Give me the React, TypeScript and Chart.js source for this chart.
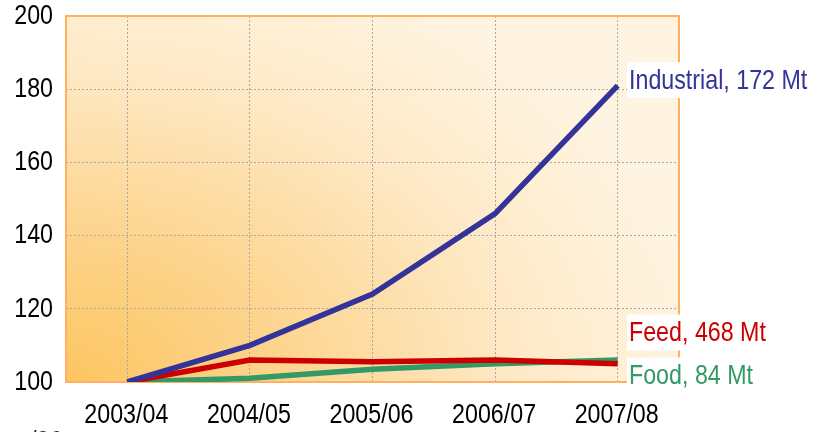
import React, { useEffect, useRef } from "react";
import { Chart, registerables } from "chart.js";
Chart.register(...registerables);

const categories = ["2003/04", "2004/05", "2005/06", "2006/07", "2007/08"];
const industrial = [100, 110, 124, 146, 181];
const feed = [100, 106, 105.5, 106, 105];
const food = [100, 101, 103.5, 105, 106];
const yTicks = [100, 120, 140, 160, 180, 200];
const seriesLabels = ["Industrial, 172 Mt", "Feed, 468 Mt", "Food, 84 Mt"];
const labelValues = [182.5, 113.5, 101.8];
const colors = ["#333399", "#CC0000", "#339966"];

const FONT = '"Liberation Sans", Arial, sans-serif';
const SX = 0.83;

function condensedText(ctx: any, t: string, x: number, y: number, align: string, color: string) {
  ctx.save();
  ctx.font = `28px ${FONT}`;
  ctx.textBaseline = "middle";
  ctx.textAlign = align;
  ctx.fillStyle = color;
  ctx.translate(x, y);
  ctx.scale(SX, 1);
  ctx.fillText(t, 0, 0);
  ctx.restore();
}

const bgPlugin = {
  id: "bg",
  beforeDraw(chart: any) {
    const { ctx, chartArea: a } = chart;
    ctx.save();
    ctx.fillStyle = "#FFFFFF";
    ctx.fillRect(0, 0, chart.width, chart.height);
    ctx.beginPath();
    ctx.rect(a.left, a.top, a.right - a.left, a.bottom - a.top);
    ctx.clip();
    ctx.translate(a.left, a.bottom);
    ctx.scale(1, 0.7);
    const g = ctx.createRadialGradient(0, 0, 0, 0, 0, 640);
    g.addColorStop(0, "#FCC560");
    g.addColorStop(0.35, "#FDD590");
    g.addColorStop(0.7, "#FEE9C6");
    g.addColorStop(1, "#FFF4E1");
    ctx.fillStyle = g;
    ctx.fillRect(-10, -800, 900, 820);
    ctx.restore();
  },
  beforeDatasetsDraw(chart: any) {
    const { ctx, chartArea: a } = chart;
    ctx.save();
    ctx.strokeStyle = "#FFB060";
    ctx.lineWidth = 2;
    ctx.strokeRect(a.left, a.top, a.right - a.left, a.bottom - a.top);
    ctx.restore();
  },
  afterDraw(chart: any) {
    const { ctx, chartArea: a, scales } = chart;
    yTicks.forEach((v) => {
      condensedText(ctx, String(v), a.left - 13, scales.y.getPixelForValue(v), "right", "#000");
    });
    categories.forEach((c, i) => {
      condensedText(ctx, c, scales.x.getPixelForTick(i) - 1, a.bottom + 33, "center", "#000");
    });
    ctx.save();
    ctx.font = `28px ${FONT}`;
    seriesLabels.forEach((t, i) => {
      const y = scales.y.getPixelForValue(labelValues[i]);
      const x = a.right - 50;
      const w = ctx.measureText(t).width * SX;
      ctx.fillStyle = "#FFFFFF";
      ctx.fillRect(x - 2, y - 18, w + 6, 36);
      condensedText(ctx, t, x, y + 1, "left", colors[i]);
    });
    ctx.restore();
    condensedText(ctx, "/06", 30, 442, "left", "#222");
  },
};

export default function App() {
  const ref = useRef<HTMLCanvasElement>(null);
  useEffect(() => {
    const chart = new Chart(ref.current!, {
      type: "line",
      data: {
        labels: categories,
        datasets: [
          { label: "Industrial", data: industrial, borderColor: colors[0], borderWidth: 5.5, pointRadius: 0, tension: 0 },
          { label: "Feed", data: feed, borderColor: colors[1], borderWidth: 5.5, pointRadius: 0, tension: 0 },
          { label: "Food", data: food, borderColor: colors[2], borderWidth: 5.5, pointRadius: 0, tension: 0 },
        ],
      },
      options: {
        responsive: false,
        animation: false,
        layout: { padding: { top: 16, right: 139, left: 0, bottom: 0 } },
        plugins: { legend: { display: false }, tooltip: { enabled: false } },
        scales: {
          x: {
            offset: true,
            grid: { offset: false, color: "#A8A8A8", lineWidth: 1, drawTicks: false },
            border: { display: false, dash: [2, 2] },
            ticks: { display: false },
            afterFit: (s: any) => { s.height = 50; },
          },
          y: {
            min: 100,
            max: 200,
            afterBuildTicks: (s: any) => { s.ticks = yTicks.map((v) => ({ value: v })); },
            grid: {
              color: (c: any) => (c.tick && (c.tick.value === 100 || c.tick.value === 200) ? "rgba(0,0,0,0)" : "#A8A8A8"),
              lineWidth: 1,
              drawTicks: false,
            },
            border: { display: false, dash: [2, 2] },
            ticks: { display: false },
            afterFit: (s: any) => { s.width = 66; },
          },
        },
      },
      plugins: [bgPlugin],
    });
    return () => chart.destroy();
  }, []);
  return (
    <div style={{ position: "absolute", left: 0, top: 0, width: 818, height: 432, background: "#fff" }}>
      <canvas ref={ref} width={818} height={432} style={{ display: "block" }} />
    </div>
  );
}
